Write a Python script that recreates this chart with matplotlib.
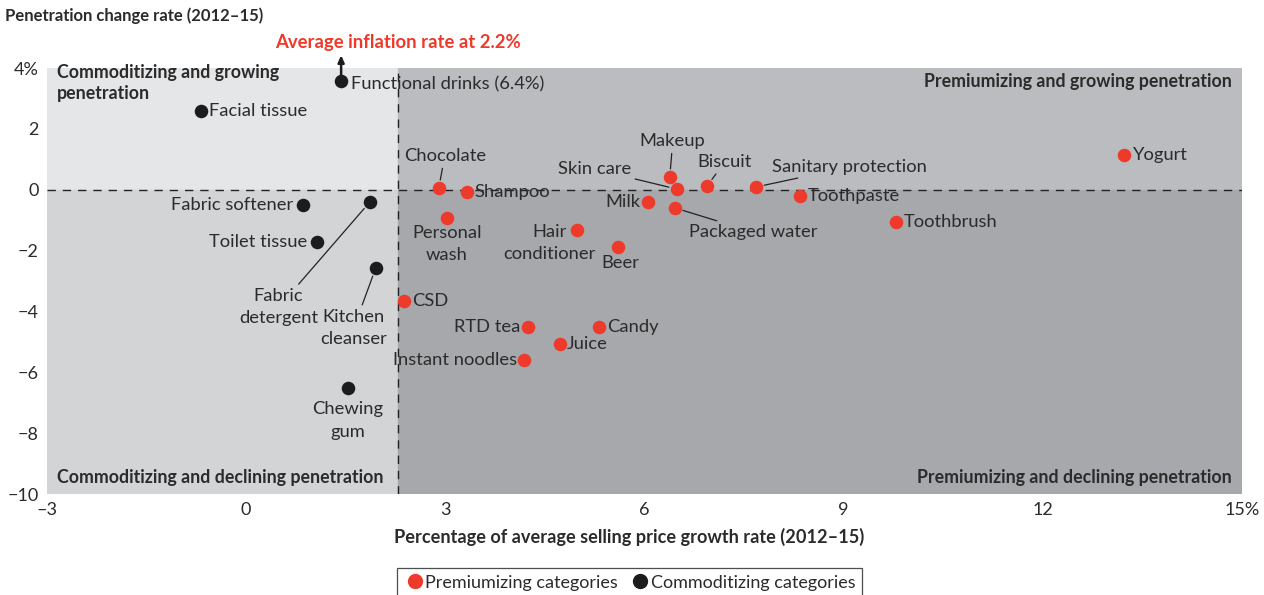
import matplotlib.pyplot as plt
from matplotlib.lines import Line2D
from matplotlib.patches import Rectangle

plt.rcParams['font.family'] = ['Lato', 'DejaVu Sans']

# categories and values (price growth %, penetration change %)
premium_names = ['Chocolate', 'Shampoo', 'Personal\nwash', 'Hair\nconditioner', 'Beer',
                 'Milk', 'Makeup', 'Skin care', 'Packaged water', 'Biscuit',
                 'Sanitary protection', 'Toothpaste', 'Toothbrush', 'Yogurt',
                 'CSD', 'RTD tea', 'Instant noodles', 'Juice', 'Candy']
premium_x = [2.9, 3.33, 3.02, 4.99, 5.6, 6.06, 6.38, 6.49, 6.46, 6.94,
             7.68, 8.34, 9.79, 13.23, 2.38, 4.25, 4.18, 4.72, 5.31]
premium_y = [0.05, -0.08, -0.93, -1.33, -1.89, -0.41, 0.41, 0.02, -0.6, 0.12,
             0.09, -0.21, -1.07, 1.14, -3.67, -4.52, -5.6, -5.08, -4.52]

commod_names = ['Functional drinks (6.4%)', 'Facial tissue', 'Fabric softener',
                'Toilet tissue', 'Fabric\ndetergent', 'Kitchen\ncleanser', 'Chewing\ngum']
commod_x = [1.43, -0.68, 0.86, 1.06, 1.86, 1.95, 1.54]
commod_y = [3.57, 2.58, -0.51, -1.72, -0.41, -2.58, -6.53]

inflation = 2.28
x_ticks = [-3, 0, 3, 6, 9, 12, 15]
x_ticklabels = ['\u20133', '0', '3', '6', '9', '12', '15%']
y_ticks = [-10, -8, -6, -4, -2, 0, 2, 4]
y_ticklabels = ['\u221210', '\u22128', '\u22126', '\u22124', '\u22122', '0', '2', '4%']

# label placement: (dx px, dy px, ha, leader line)
layout = {
    'Chocolate': (6, 32, 'center', True),
    'Shampoo': (7, 0, 'left', False),
    'Personal\nwash': (0, -26, 'center', False),
    'Hair\nconditioner': (-28, -13, 'center', False),
    'Beer': (2, -16, 'center', False),
    'Milk': (-8, 0, 'right', False),
    'Makeup': (3, 36, 'center', True),
    'Skin care': (-46, 20, 'right', True),
    'Packaged water': (14, -24, 'left', True),
    'Biscuit': (18, 24, 'center', True),
    'Sanitary protection': (16, 20, 'left', True),
    'Toothpaste': (8, 0, 'left', False),
    'Toothbrush': (8, 0, 'left', False),
    'Yogurt': (8, 0, 'left', False),
    'CSD': (8, 0, 'left', False),
    'RTD tea': (-8, 0, 'right', False),
    'Instant noodles': (-7, 0, 'right', False),
    'Juice': (7, 0, 'left', False),
    'Candy': (8, 0, 'left', False),
    'Functional drinks (6.4%)': (10, -3, 'left', False),
    'Facial tissue': (8, 0, 'left', False),
    'Fabric softener': (-10, 0, 'right', False),
    'Toilet tissue': (-9, 0, 'right', False),
    'Fabric\ndetergent': (-91, -105, 'center', True),
    'Kitchen\ncleanser': (-22, -60, 'center', True),
    'Chewing\ngum': (-1, -32, 'center', False),
}

red = '#ee3a2b'
black = '#1c1c1c'
txt = '#2b2b2b'

fig = plt.figure(figsize=(12.64, 5.95), dpi=100)
ax = fig.add_axes([0.0372, 0.1697, 0.9454, 0.716])
ax.set_xlim(-3, 15)
ax.set_ylim(-10, 4)

# quadrant backgrounds
ax.add_patch(Rectangle((-3, 0), inflation + 3, 4, color='#e5e6e8', zorder=0))
ax.add_patch(Rectangle((-3, -10), inflation + 3, 10, color='#d3d4d6', zorder=0))
ax.add_patch(Rectangle((inflation, 0), 15 - inflation, 4, color='#bbbcc0', zorder=0))
ax.add_patch(Rectangle((inflation, -10), 15 - inflation, 10, color='#a7a8ac', zorder=0))

ax.axhline(0, color='#222222', lw=1, dashes=(6, 5), zorder=1)
ax.axvline(inflation, color='#222222', lw=1, dashes=(6, 5), zorder=1)

ax.scatter(premium_x, premium_y, s=95, color=red, zorder=3, linewidths=0)
ax.scatter(commod_x, commod_y, s=95, color=black, zorder=3, linewidths=0)

for names, xs, ys in [(premium_names, premium_x, premium_y),
                      (commod_names, commod_x, commod_y)]:
    for n, x, y in zip(names, xs, ys):
        dx, dy, ha, line = layout[n]
        props = None
        if line:
            props = dict(arrowstyle='-', color='#222222', lw=0.9,
                         shrinkA=1, shrinkB=6)
        ax.annotate(n, xy=(x, y), xytext=(dx, dy), textcoords='offset pixels',
                    ha=ha, va='center', multialignment='center', fontsize=13.2,
                    color=txt, arrowprops=props, zorder=4, linespacing=1.5)

# arrow for functional drinks (off the scale)
ax.annotate('', xy=(commod_x[0], 4.42), xytext=(commod_x[0], commod_y[0] + 0.15),
            arrowprops=dict(arrowstyle='-|>,head_length=0.4,head_width=0.18',
                            color=black, lw=1.8, shrinkA=0, shrinkB=0),
            annotation_clip=False, zorder=4)

# quadrant titles
qfont = dict(fontsize=12.8, fontweight='bold', color=txt, zorder=4)
ax.text(-2.85, 3.5, 'Commoditizing and growing\npenetration', ha='left', va='center',
        linespacing=1.3, **qfont)
ax.text(14.85, 3.55, 'Premiumizing and growing penetration', ha='right', va='center', **qfont)
ax.text(-2.85, -9.45, 'Commoditizing and declining penetration', ha='left', va='center', **qfont)
ax.text(14.85, -9.45, 'Premiumizing and declining penetration', ha='right', va='center', **qfont)

ax.set_xticks(x_ticks)
ax.set_xticklabels(x_ticklabels)
ax.set_yticks(y_ticks)
ax.set_yticklabels(y_ticklabels)
ax.tick_params(length=0, labelsize=13, labelcolor=txt)
ax.tick_params(axis='x', pad=6)
ax.tick_params(axis='y', pad=6)
for s in ax.spines.values():
    s.set_visible(False)

fig.text(0.004, 0.974, 'Penetration change rate (2012\u201315)', ha='left', va='center',
         fontsize=12, fontweight='bold', color=txt)
fig.text(0.315, 0.929, 'Average inflation rate at 2.2%', ha='center', va='center',
         fontsize=13.3, fontweight='bold', color=red)
fig.text(0.498, 0.097, 'Percentage of average selling price growth rate (2012\u201315)',
         ha='center', va='center', fontsize=13.1, fontweight='bold', color=txt)

handles = [Line2D([], [], marker='o', ls='', color=red, markersize=10),
           Line2D([], [], marker='o', ls='', color=black, markersize=10)]
leg = fig.legend(handles, ['Premiumizing categories', 'Commoditizing categories'],
                 loc='upper center', bbox_to_anchor=(0.498, 0.048 + 0.012), ncol=2,
                 frameon=True, fancybox=False, edgecolor='#222222', fontsize=13,
                 handletextpad=0.0, columnspacing=0.6, borderpad=0.35, handlelength=1.2)
leg.get_frame().set_linewidth(0.9)
for t in leg.get_texts():
    t.set_color(txt)

fig.savefig('out.png', dpi=100)
